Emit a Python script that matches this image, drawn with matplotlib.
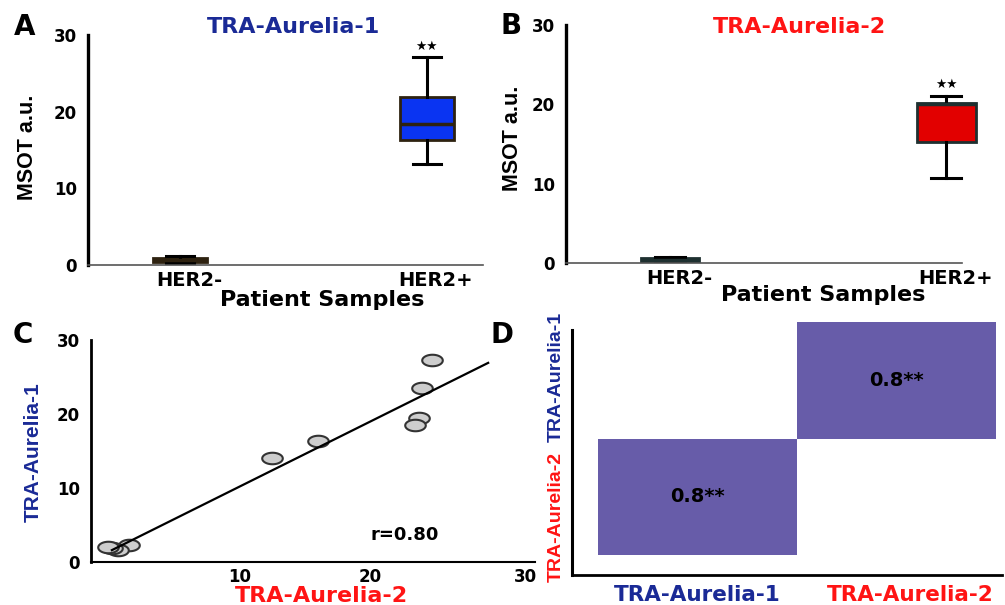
import numpy as np
import matplotlib
matplotlib.use("Agg")
import matplotlib.pyplot as plt
from matplotlib.colors import ListedColormap
from matplotlib.path import Path
from matplotlib.transforms import ScaledTranslation

plt.rcParams['font.family'] = ['DejaVu Sans']
plt.rcParams['font.weight'] = 'bold'
plt.rcParams['axes.labelweight'] = 'bold'

NARROW = ['Liberation Sans Narrow', 'Liberation Sans', 'DejaVu Sans']
NAVY = '#1a2a96'
RED = '#ff1414'

# ---- data ----
groups = ['HER2-', 'HER2+']

# panel A: TRA-Aurelia-1 box stats (whislo, q1, med, q3, whishi)
a1_whislo = [0.3, 13.2]
a1_q1 = [0.45, 16.3]
a1_med = [0.65, 18.35]
a1_q3 = [0.85, 21.9]
a1_whishi = [1.2, 27.1]

# panel B: TRA-Aurelia-2
a2_whislo = [0.1, 10.7]
a2_q1 = [0.15, 15.3]
a2_med = [0.4, 20.1]
a2_q3 = [0.6, 20.2]
a2_whishi = [0.7, 21.1]

# panel C: paired samples
aur2_vals = [24.8, 24.0, 23.8, 23.5, 16.0, 12.5, 1.5, 0.6, 0.15, -0.15]
aur1_vals = [27.3, 23.5, 19.5, 18.5, 16.4, 14.1, 2.3, 1.6, 1.9, 2.0]
fit_slope = 0.874
fit_intercept = 1.47
fit_range = [0.15, 29.1]
r_value = 0.80

# panel D: correlation matrix
probes = ['TRA-Aurelia-1', 'TRA-Aurelia-2']
corr = np.array([[0.8, np.nan],      # row for TRA-Aurelia-2 (bottom)
                 [np.nan, 0.8]])     # row for TRA-Aurelia-1 (top)


def stats(lo, q1, med, q3, hi, i):
    return dict(whislo=lo[i], q1=q1[i], med=med[i], q3=q3[i], whishi=hi[i], fliers=[])


def box_panel(ax, lo, q1, med, q3, hi, fill, edge, width):
    bs = [stats(lo, q1, med, q3, hi, i) for i in range(2)]
    ax.bxp(bs, positions=[0, 1], widths=width, patch_artist=True, showfliers=False,
           boxprops=dict(facecolor=fill, edgecolor=edge, linewidth=2.0),
           medianprops=dict(color=edge, linewidth=2.5),
           whiskerprops=dict(color='black', linewidth=2.2),
           capprops=dict(color='black', linewidth=2.2), capwidths=width / 2)
    ax.spines[['top', 'right']].set_visible(False)
    ax.spines['left'].set_linewidth(2.4)
    ax.spines['bottom'].set_linewidth(1.2)
    ax.spines['bottom'].set_color('#555555')
    ax.set_ylim(0, 30)
    ax.set_yticks([0, 10, 20, 30])
    ax.tick_params(axis='y', length=0, pad=8, labelsize=12)
    ax.tick_params(axis='x', length=0, pad=4, labelsize=14)
    ax.set_xticks([0, 1])
    ax.set_xticklabels(groups)
    for lab in ax.get_xticklabels():
        lab.set_transform(lab.get_transform() + ScaledTranslation(0.09, 0, ax.figure.dpi_scale_trans))
    ax.set_ylabel('MSOT a.u.', fontsize=15.5, family=NARROW)
    ax.text(1, hi[1] + 0.6, '★★', ha='center', va='bottom', fontsize=9)


fig = plt.figure(figsize=(10.05, 6.05), dpi=100)

# ---- A ----
axA = fig.add_axes([0.0876, 0.562, 0.393, 0.380])
box_panel(axA, a1_whislo, a1_q1, a1_med, a1_q3, a1_whishi, '#0a34f2', '#2e2210', 0.22)
axA.set_xlim(-0.372, 1.227)
axA.yaxis.set_label_coords(-0.127, 0.51)
axA.text(0.52, 1.035, 'TRA-Aurelia-1', transform=axA.transAxes, color=NAVY,
         fontsize=16, ha='center', va='center')
axA.text(0.592, -0.152, 'Patient Samples', transform=axA.transAxes,
         fontsize=16, ha='center', va='center')

# ---- B ----
axB = fig.add_axes([0.5632, 0.5653, 0.417, 0.3934])
box_panel(axB, a2_whislo, a2_q1, a2_med, a2_q3, a2_whishi, '#e20000', '#1e3030', 0.213)
axB.set_xlim(-0.377, 1.141)
axB.spines['bottom'].set_bounds(-0.377, 1.058)
axB.yaxis.set_label_coords(-0.103, 0.525)
axB.text(0.558, 0.99, 'TRA-Aurelia-2', transform=axB.transAxes, color=RED,
         fontsize=16, ha='center', va='center')
axB.text(0.613, -0.134, 'Patient Samples', transform=axB.transAxes,
         fontsize=16, ha='center', va='center')

# ---- C ----
axC = fig.add_axes([0.0905, 0.0711, 0.4418, 0.367])
t = np.linspace(0, 2 * np.pi, 40)
ellipse = Path(np.column_stack([np.cos(t), 0.56 * np.sin(t)]), closed=True)
fx = np.array(fit_range)
axC.plot(fx, fit_intercept + fit_slope * fx, color='black', lw=1.6, zorder=3)
axC.scatter(aur2_vals, aur1_vals, marker=ellipse, s=220, facecolor='#cdcdcd',
            edgecolor='#333333', linewidth=1.5, zorder=2)
axC.set_xlim(-1.46, 32.7)
axC.set_ylim(0, 30)
axC.set_yticks([0, 10, 20, 30])
axC.set_xticks([10, 20, 32])
axC.set_xticklabels(['10', '20', '30'])
axC.tick_params(axis='y', length=0, pad=8, labelsize=12)
axC.tick_params(axis='x', length=0, pad=4, labelsize=12)
axC.spines[['top', 'right']].set_visible(False)
axC.spines['left'].set_linewidth(2.0)
axC.spines['bottom'].set_linewidth(1.5)
axC.set_ylabel('TRA-Aurelia-1', color=NAVY, fontsize=15, family=NARROW)
axC.yaxis.set_label_coords(-0.108, 0.495)
axC.set_xlabel('TRA-Aurelia-2', color=RED, fontsize=16)
axC.xaxis.set_label_coords(0.52, -0.11)
axC.text(22.7, 3.6, 'r=%.2f' % r_value, fontsize=13, ha='center', va='center')

# ---- D ----
axD = fig.add_axes([0.5692, 0.0496, 0.4279, 0.418])
axD.pcolormesh([0, 1, 2], [0, 1, 2], np.ma.masked_invalid(corr),
               cmap=ListedColormap(['#675ca9']), linewidth=0)
for i in range(2):
    for j in range(2):
        if not np.isnan(corr[i, j]):
            axD.text(j + 0.5, i + 0.5, '%.1f**' % corr[i, j], ha='center', va='center',
                     fontsize=14)
axD.set_xlim(-0.131, 2.03)
axD.set_ylim(-0.172, 2.0)
axD.spines[['top', 'right']].set_visible(False)
axD.spines['left'].set_bounds(-0.172, 1.93)
axD.spines['left'].set_linewidth(2.2)
axD.spines['bottom'].set_linewidth(2.0)
axD.set_xticks([0.5, 1.57])
axD.set_xticklabels(probes, fontsize=15.5)
axD.set_yticks([0.33, 1.53])
axD.set_yticklabels(probes[::-1], rotation=90, va='center', fontsize=14, family=NARROW)
axD.tick_params(length=0)
axD.tick_params(axis='x', pad=7)
axD.tick_params(axis='y', pad=5)
for lab, c in zip(axD.get_xticklabels(), [NAVY, RED]):
    lab.set_color(c)
for lab, c in zip(axD.get_yticklabels(), [RED, NAVY]):
    lab.set_color(c)

# panel letters
for letter, (px, py) in zip('ABCD', [(25, 27), (511, 26), (23, 335), (502, 335)]):
    fig.text(px / 1005, 1 - py / 605, letter, fontsize=20, ha='center', va='center')

fig.savefig('out.png', dpi=100)
